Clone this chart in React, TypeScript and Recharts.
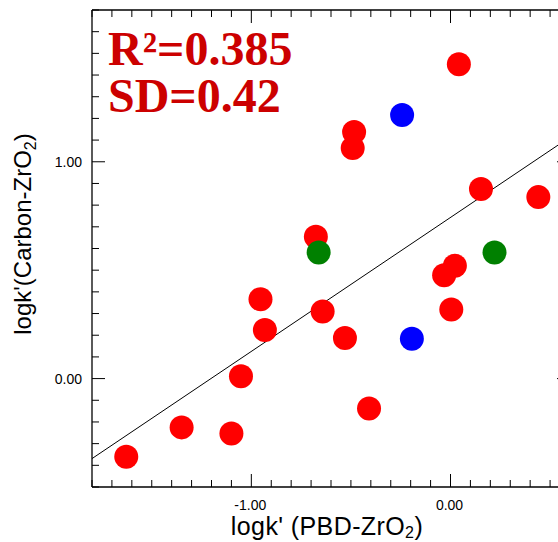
import React from 'react';
import { ComposedChart, Scatter, Line, XAxis, YAxis } from 'recharts';

// ---- data ----
const redX = [-1.628, -1.35, -1.1, -1.052, -0.954, -0.932, -0.676, -0.642, -0.53, -0.491, -0.484, -0.409, -0.032, 0.022, 0.004, 0.042, 0.153, 0.441];
const redY = [-0.36, -0.225, -0.253, 0.011, 0.366, 0.224, 0.654, 0.309, 0.187, 1.063, 1.137, -0.138, 0.477, 0.52, 0.319, 1.45, 0.874, 0.837];
const blueX = [-0.243, -0.194];
const blueY = [1.216, 0.184];
const greenX = [-0.662, 0.221];
const greenY = [0.582, 0.582];
const fitX = [-1.8, 0.6];
const fitY = [-0.369, 1.114];

const xDomain = [-1.8, 0.6];
const yDomain = [-0.5, 1.7];
const xMajor = [-1, 0];
const xMajorLabels = ['-1.00', '0.00'];
const yMajor = [0, 1];
const yMajorLabels = ['0.00', '1.00'];
const xTicks = Array.from({ length: 25 }, (_, i) => Math.round((-18 + i) ) / 10);
const yTicks = Array.from({ length: 23 }, (_, i) => Math.round((-5 + i)) / 10);

const annotation = ['R\u00B2=0.385', 'SD=0.42'];
const xTitle = "logk' (PBD-ZrO";
const yTitle = "logk'(Carbon-ZrO";

const toPts = (xs: number[], ys: number[]) => xs.map((x, i) => ({ x, y: ys[i] }));
const redData = toPts(redX, redY);
const blueData = toPts(blueX, blueY);
const greenData = toPts(greenX, greenY);
const fitData = toPts(fitX, fitY);

const SANS = 'Arial, "Liberation Sans", sans-serif';
const SERIF = '"Liberation Serif", "Times New Roman", serif';
const near = (a: number, b: number) => Math.abs(a - b) < 1e-6;

const dot = (color: string) => (props: any) => (
  <circle cx={props.cx} cy={props.cy} r={12} fill={color} />
);

const BottomTick = (props: any) => {
  const { x, y, payload } = props;
  const idx = xMajor.findIndex((m) => near(m, payload.value));
  const major = idx >= 0;
  return (
    <g>
      <line x1={x} x2={x} y1={y} y2={y - (major ? 13 : 7)} stroke="#000" strokeWidth={1} />
      {major && (
        <text x={x - 1} y={y + 23} textAnchor="middle" fontSize={14} fontFamily={SANS} fill="#000">
          {xMajorLabels[idx]}
        </text>
      )}
    </g>
  );
};

const TopTick = (props: any) => {
  const { x, y, payload } = props;
  const major = xMajor.some((m) => near(m, payload.value));
  return <line x1={x} x2={x} y1={y} y2={y + (major ? 13 : 7)} stroke="#000" strokeWidth={1} />;
};

const LeftTick = (props: any) => {
  const { x, y, payload } = props;
  const idx = yMajor.findIndex((m) => near(m, payload.value));
  const major = idx >= 0;
  return (
    <g>
      <line x1={x} x2={x + (major ? 13 : 7)} y1={y} y2={y} stroke="#000" strokeWidth={1} />
      {major && (
        <text x={x - 10} y={y + 5} textAnchor="end" fontSize={14} fontFamily={SANS} fill="#000">
          {yMajorLabels[idx]}
        </text>
      )}
    </g>
  );
};

const RightTick = (props: any) => {
  const { x, y, payload } = props;
  const major = yMajor.some((m) => near(m, payload.value));
  return <line x1={x} x2={x - (major ? 13 : 7)} y1={y} y2={y} stroke="#000" strokeWidth={1} />;
};

const axisLine = { stroke: '#000', strokeWidth: 1.3 };

export default function App() {
  return (
    <div style={{ position: 'absolute', left: 0, top: 0, width: 558, height: 542, overflow: 'hidden', background: '#fff' }}>
      <ComposedChart width={580} height={542} margin={{ top: 0, right: 0, bottom: 0, left: 0 }}>
        <XAxis xAxisId="b" type="number" dataKey="x" domain={xDomain} ticks={xTicks} interval={0}
          allowDataOverflow orientation="bottom" height={55} tickSize={0} tickMargin={0} tickLine={false}
          axisLine={axisLine} tick={<BottomTick />} />
        <XAxis xAxisId="t" type="number" dataKey="x" domain={xDomain} ticks={xTicks} interval={0}
          allowDataOverflow orientation="top" height={10} tickSize={0} tickMargin={0} tickLine={false}
          axisLine={axisLine} tick={<TopTick />} />
        <YAxis yAxisId="l" type="number" dataKey="y" domain={yDomain} ticks={yTicks} interval={0}
          allowDataOverflow orientation="left" width={92} tickSize={0} tickMargin={0} tickLine={false}
          axisLine={axisLine} tick={<LeftTick />} />
        <YAxis yAxisId="r" type="number" dataKey="y" domain={yDomain} ticks={yTicks} interval={0}
          allowDataOverflow orientation="right" width={10} tickSize={0} tickMargin={0} tickLine={false}
          axisLine={axisLine} tick={<RightTick />} />
        <Line xAxisId="b" yAxisId="l" data={fitData} dataKey="y" type="linear" stroke="#000"
          strokeWidth={1} dot={false} activeDot={false} isAnimationActive={false} />
        <Scatter xAxisId="b" yAxisId="l" data={redData} dataKey="y" shape={dot('#ff0000')} isAnimationActive={false} />
        <Scatter xAxisId="b" yAxisId="l" data={blueData} dataKey="y" shape={dot('#0000ff')} isAnimationActive={false} />
        <Scatter xAxisId="b" yAxisId="l" data={greenData} dataKey="y" shape={dot('#008000')} isAnimationActive={false} />
      </ComposedChart>
      <svg width={558} height={542} style={{ position: 'absolute', left: 0, top: 0, pointerEvents: 'none' }}>
        <text fontFamily={SERIF} fontWeight="bold" fontSize={48} fill="#cc0000">
          <tspan x={108} y={65}>{annotation[0]}</tspan>
          <tspan x={108} y={112}>{annotation[1]}</tspan>
        </text>
        <text x={327} y={535} textAnchor="middle" fontFamily={SANS} fontSize={25} letterSpacing={0.4} fill="#000">
          <tspan>{xTitle}</tspan>
          <tspan fontSize={16} dy={3}>2</tspan>
          <tspan dy={-3}>)</tspan>
        </text>
        <text transform="translate(31,234) rotate(-90)" textAnchor="middle" fontFamily={SANS} fontSize={24} fill="#000">
          <tspan>{yTitle}</tspan>
          <tspan fontSize={16} dy={5}>2</tspan>
          <tspan dy={-5}>)</tspan>
        </text>
      </svg>
    </div>
  );
}
